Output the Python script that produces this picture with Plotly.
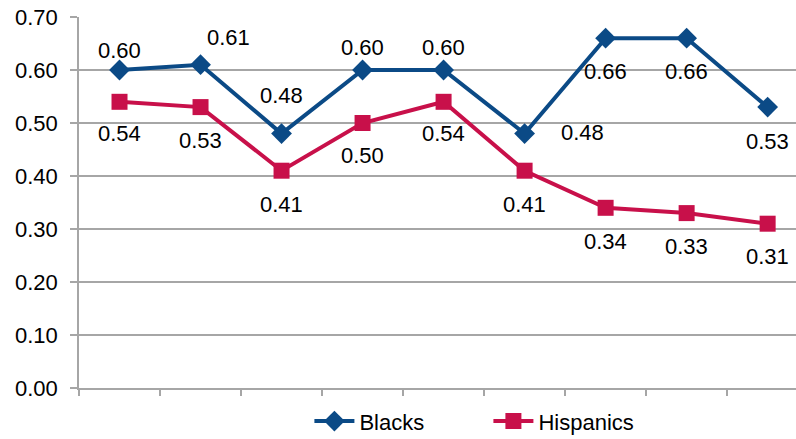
import plotly.graph_objects as go

# Nine periods, unlabeled on the category axis
categories = list(range(9))
blacks = [0.60, 0.61, 0.48, 0.60, 0.60, 0.48, 0.66, 0.66, 0.53]
hispanics = [0.54, 0.53, 0.41, 0.50, 0.54, 0.41, 0.34, 0.33, 0.31]
y_ticks = [0.0, 0.1, 0.2, 0.3, 0.4, 0.5, 0.6, 0.7]

BLUE = "#0B4A86"
RED = "#C8104A"
GRID = "#A6A6A6"
FONT = "Liberation Sans, Arial, sans-serif"
FS = 22

# Pixel offsets of each value label relative to its point
blacks_shift = [(0, 20), (28, 27), (0, 38), (0, 23), (0, 23), (58, 1), (0, -33), (0, -33), (0, -34)]
hisp_shift = [(0, -32), (0, -33), (0, -34), (0, -32), (0, -32), (0, -34), (0, -34), (0, -33), (0, -33)]

fig = go.Figure()
fig.add_trace(go.Scatter(
    x=categories, y=blacks, name="Blacks", mode="lines+markers",
    line=dict(color=BLUE, width=4),
    marker=dict(symbol="diamond", size=16, color=BLUE),
))
fig.add_trace(go.Scatter(
    x=categories, y=hispanics, name="Hispanics", mode="lines+markers",
    line=dict(color=RED, width=4),
    marker=dict(symbol="square", size=16, color=RED),
))

annotations = []
for xs, ys, shifts in ((categories, blacks, blacks_shift), (categories, hispanics, hisp_shift)):
    for x, y, (dx, dy) in zip(xs, ys, shifts):
        annotations.append(dict(
            x=x, y=y, xref="x", yref="y", text=f"{y:.2f}", showarrow=False,
            xshift=dx, yshift=dy, font=dict(family=FONT, size=FS, color="#000000"),
        ))

fig.update_layout(
    width=796, height=439,
    margin=dict(l=79, r=0, t=17, b=51, autoexpand=False),
    paper_bgcolor="white", plot_bgcolor="white",
    font=dict(family=FONT, size=FS, color="#000000"),
    showlegend=True,
    legend=dict(
        orientation="h", x=0.571, xanchor="center", y=-0.033, yanchor="top",
        font=dict(family=FONT, size=FS), itemwidth=40, tracegroupgap=0,
        entrywidth=124,
    ),
    annotations=annotations,
    xaxis=dict(
        range=[-0.5, 8.35], tickvals=[i - 0.5 for i in range(10)],
        ticktext=[""] * 10, ticks="outside", ticklen=6, tickcolor=GRID,
        tickwidth=1.5, showgrid=False, zeroline=False,
        showline=True, linecolor=GRID, linewidth=1.5,
    ),
    yaxis=dict(
        range=[0, 0.70], tickvals=y_ticks, ticktext=[f"{v:.2f}" for v in y_ticks],
        ticks="outside", ticklen=7, tickcolor=GRID, tickwidth=1.5,
        showgrid=True, gridcolor=GRID, gridwidth=1.5, zeroline=False,
        showline=True, linecolor=GRID, linewidth=1.5,
        ticklabelstandoff=8, tickfont=dict(family=FONT, size=FS),
    ),
)

fig.write_html("out.html")
